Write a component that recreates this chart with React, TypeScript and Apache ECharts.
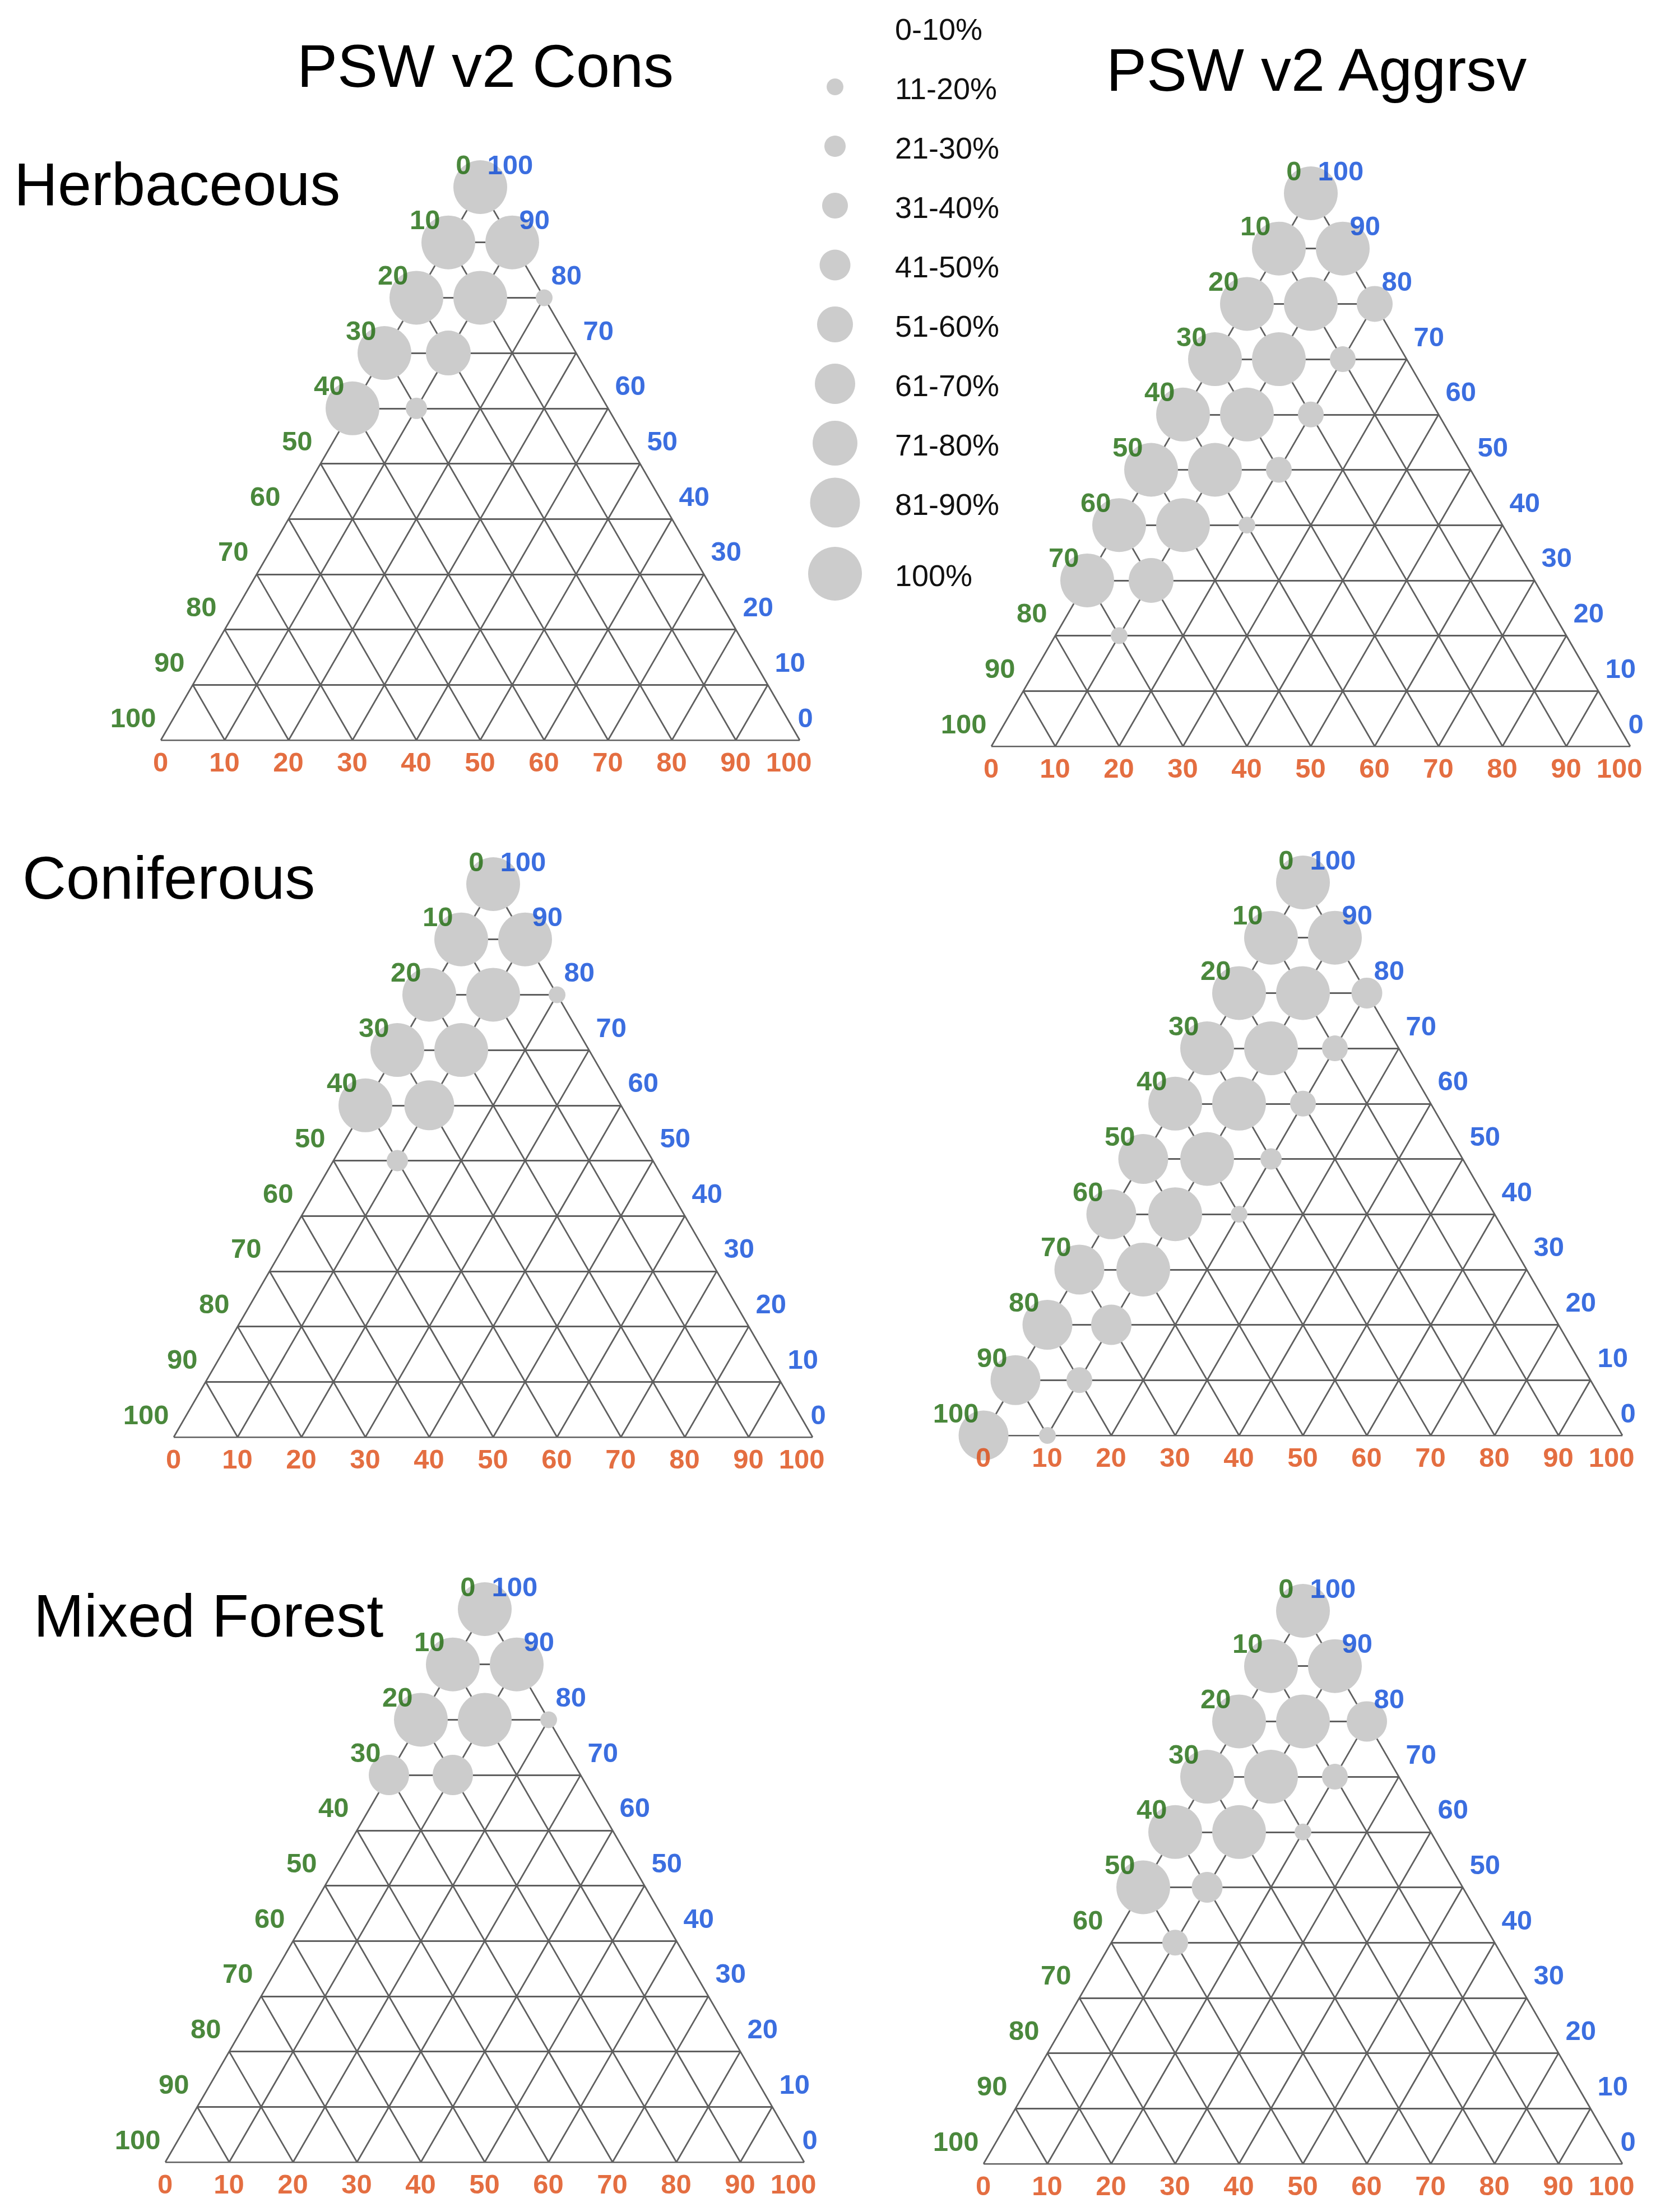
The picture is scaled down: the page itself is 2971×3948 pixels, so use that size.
import React, { useEffect, useRef } from "react";
import * as echarts from "echarts";

const W = 2971;
const H = 3948;

// ---------- data ----------
const ticks = [0, 10, 20, 30, 40, 50, 60, 70, 80, 90, 100];

const binLabels = ["0-10%", "11-20%", "21-30%", "31-40%", "41-50%", "51-60%", "61-70%", "71-80%", "81-90%", "100%"];
const binUpper = [10, 20, 30, 40, 50, 60, 70, 80, 90, 100];
const binDiameter = [0, 30, 38, 46, 55, 64, 72, 80, 89, 96];

const columnTitles = ["PSW v2 Cons", "PSW v2 Aggrsv"];
const rowTitles = ["Herbaceous", "Coniferous", "Mixed Forest"];

// each entry: [blue value (apex axis), orange value (bottom axis), percentage bin upper bound]
const herbaceousCons = [
  [100, 0, 100],
  [90, 0, 100], [90, 10, 100],
  [80, 0, 100], [80, 10, 100], [80, 20, 20],
  [70, 0, 100], [70, 10, 80],
  [60, 0, 100], [60, 10, 30],
];
const herbaceousAggrsv = [
  [100, 0, 100],
  [90, 0, 100], [90, 10, 100],
  [80, 0, 100], [80, 10, 100], [80, 20, 60],
  [70, 0, 100], [70, 10, 100], [70, 20, 40],
  [60, 0, 100], [60, 10, 100], [60, 20, 40],
  [50, 0, 100], [50, 10, 100], [50, 20, 40],
  [40, 0, 100], [40, 10, 100], [40, 20, 20],
  [30, 0, 100], [30, 10, 80],
  [20, 10, 20],
];
const coniferousCons = [
  [100, 0, 100],
  [90, 0, 100], [90, 10, 100],
  [80, 0, 100], [80, 10, 100], [80, 20, 20],
  [70, 0, 100], [70, 10, 100],
  [60, 0, 100], [60, 10, 90],
  [50, 10, 30],
];
const coniferousAggrsv = [
  [100, 0, 100],
  [90, 0, 100], [90, 10, 100],
  [80, 0, 100], [80, 10, 100], [80, 20, 50],
  [70, 0, 100], [70, 10, 100], [70, 20, 40],
  [60, 0, 100], [60, 10, 100], [60, 20, 40],
  [50, 0, 90], [50, 10, 100], [50, 20, 30],
  [40, 0, 90], [40, 10, 100], [40, 20, 20],
  [30, 0, 90], [30, 10, 100],
  [20, 0, 90], [20, 10, 70],
  [10, 0, 90], [10, 10, 40],
  [0, 0, 90], [0, 10, 20],
];
const mixedCons = [
  [100, 0, 100],
  [90, 0, 100], [90, 10, 100],
  [80, 0, 100], [80, 10, 100], [80, 20, 20],
  [70, 0, 70], [70, 10, 70],
];
const mixedAggrsv = [
  [100, 0, 100],
  [90, 0, 100], [90, 10, 100],
  [80, 0, 100], [80, 10, 100], [80, 20, 70],
  [70, 0, 100], [70, 10, 100], [70, 20, 40],
  [60, 0, 100], [60, 10, 100], [60, 20, 20],
  [50, 0, 100], [50, 10, 50],
  [40, 10, 40],
];

const panelData = [herbaceousCons, herbaceousAggrsv, coniferousCons, coniferousAggrsv, mixedCons, mixedAggrsv];

// ---------- layout / style ----------
const SIDE = 1140;
const TRI_H = 987;
const panelBoxes = [
  { left: 287, top: 334 },
  { left: 1769, top: 345 },
  { left: 310, top: 1578 },
  { left: 1755, top: 1575 },
  { left: 295, top: 2872 },
  { left: 1755, top: 2875 },
];

const FONT = "'Liberation Sans', Arial, Helvetica, sans-serif";
const GREEN = "#1d6a0b";
const BLUE = "#0a4ad8";
const ORANGE = "#dd4a12";
const GRID_COLOR = "#5f5f5f";
const BUBBLE = "#cccccc";

function diameterFor(p: number) {
  const idx = binUpper.indexOf(p);
  return idx >= 0 ? binDiameter[idx] : 0;
}

function gridSegments() {
  const segs: number[][][] = [];
  for (const t of ticks) {
    if (t >= 100) continue;
    segs.push([[t / 2, t], [100 - t / 2, t]]);
    segs.push([[t, 0], [t + (100 - t) / 2, 100 - t]]);
    segs.push([[100 - t, 0], [(100 - t) / 2, 100 - t]]);
  }
  return segs;
}

function labelItems() {
  const items: any[] = [];
  for (const t of ticks) {
    const b = 100 - t;
    items.push({
      value: [b / 2, b],
      label: { formatter: String(t), color: GREEN, align: "right", position: [t === 100 ? -8 : t === 0 ? -16 : -14, -40] },
    });
    items.push({
      value: [100 - t / 2, t],
      label: { formatter: String(t), color: BLUE, align: "left", position: [t === 0 ? -3 : 13, -40] },
    });
    items.push({
      value: [t, 0],
      label: { formatter: String(t), color: ORANGE, align: "center", position: [t === 100 ? -19 : 0, 39] },
    });
  }
  return items;
}

function buildOption() {
  const grid = panelBoxes.map((p) => ({ left: p.left, top: p.top, width: SIDE, height: TRI_H }));
  const xAxis = panelBoxes.map((_, i) => ({ type: "value", gridIndex: i, min: 0, max: 100, show: false }));
  const yAxis = panelBoxes.map((_, i) => ({ type: "value", gridIndex: i, min: 0, max: 100, show: false }));
  const segs = gridSegments();
  const series: any[] = [];
  panelData.forEach((data, i) => {
    series.push({
      type: "lines",
      coordinateSystem: "cartesian2d",
      xAxisIndex: i,
      yAxisIndex: i,
      polyline: false,
      silent: true,
      z: 1,
      lineStyle: { color: GRID_COLOR, width: 2.8, opacity: 1 },
      data: segs.map((c) => ({ coords: c })),
    });
    series.push({
      type: "scatter",
      xAxisIndex: i,
      yAxisIndex: i,
      silent: true,
      z: 3,
      symbol: "circle",
      symbolSize: (v: number[]) => diameterFor(v[2]),
      itemStyle: { color: BUBBLE, opacity: 1 },
      data: data.map(([b, o, p]) => [o + b / 2, b, p]),
    });
    series.push({
      type: "scatter",
      xAxisIndex: i,
      yAxisIndex: i,
      silent: true,
      z: 5,
      symbol: "circle",
      symbolSize: 1,
      itemStyle: { color: "rgba(0,0,0,0)" },
      label: {
        show: true,
        fontSize: 49,
        fontWeight: "bold",
        fontFamily: FONT,
        verticalAlign: "middle",
      },
      data: labelItems(),
    });
  });

  const graphic: any[] = [];
  const titleStyle = { fontSize: 108, fontFamily: FONT, fill: "#000", verticalAlign: "middle" };
  graphic.push({ type: "text", x: 866, y: 117, style: { ...titleStyle, text: columnTitles[0], align: "center" } });
  graphic.push({ type: "text", x: 2349, y: 124, style: { ...titleStyle, text: columnTitles[1], align: "center" } });
  graphic.push({ type: "text", x: 25, y: 328, style: { ...titleStyle, text: rowTitles[0], align: "left" } });
  graphic.push({ type: "text", x: 40, y: 1566, style: { ...titleStyle, text: rowTitles[1], align: "left" } });
  graphic.push({ type: "text", x: 60, y: 2883, style: { ...titleStyle, text: rowTitles[2], align: "left" } });

  binLabels.forEach((lab, i) => {
    const cy = i < binLabels.length - 1 ? 52 + 106 * i : 52 + 106 * (i - 1) + 127;
    const d = binDiameter[i];
    if (d > 0) {
      graphic.push({ type: "circle", shape: { cx: 1490, cy: cy - 3, r: d / 2 }, style: { fill: BUBBLE }, silent: true });
    }
    graphic.push({
      type: "text",
      x: 1597,
      y: cy,
      style: { text: lab, fontSize: 54, fontFamily: FONT, fill: "#111", align: "left", verticalAlign: "middle" },
      silent: true,
    });
  });

  return {
    animation: false,
    backgroundColor: "#ffffff",
    grid,
    xAxis,
    yAxis,
    series,
    graphic,
  };
}

export default function App() {
  const ref = useRef<HTMLDivElement>(null);
  useEffect(() => {
    document.body.style.margin = "0";
    const chart = echarts.init(ref.current as HTMLDivElement, null, { renderer: "svg", width: W, height: H });
    chart.setOption(buildOption() as any);
    return () => chart.dispose();
  }, []);
  return <div ref={ref} style={{ width: W, height: H, background: "#fff" }} />;
}
